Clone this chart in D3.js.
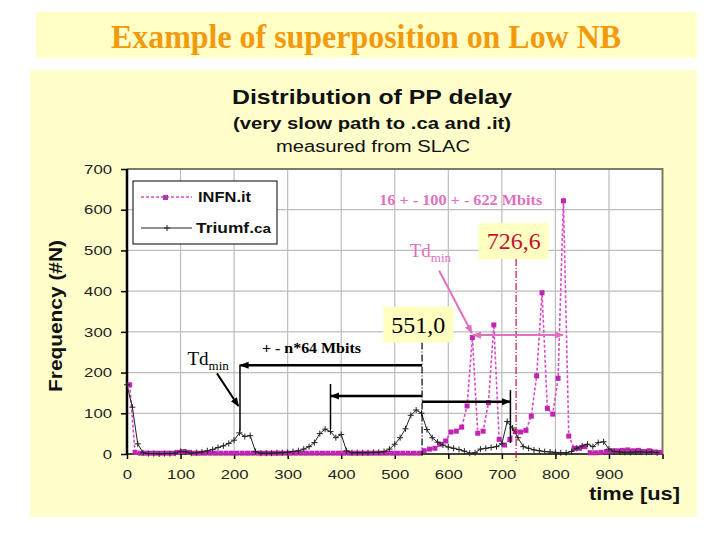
<!DOCTYPE html>
<html><head><meta charset="utf-8">
<script src="https://cdn.jsdelivr.net/npm/d3@7"></script>
<style>body{margin:0;background:#fff;} svg{display:block;}</style>
</head><body>
<svg id="c" width="720" height="540"></svg>
<script>
// ---------------- data ----------------
const xTicks = [0,100,200,300,400,500,600,700,800,900];
const yTicks = [0,100,200,300,400,500,600,700];
const seriesNames = ["INFN.it","Triumf.ca"];

const triumfTimes = [0,10,20,30,40,50,60,70,80,90,100,110,120,130,140,150,160,170,180,190,
  200,210,220,230,240,250,260,270,280,290,300,310,320,330,340,350,360,370,380,390,
  400,410,420,430,440,450,460,470,480,490,500,510,520,530,540,550,560,570,580,590,
  600,610,620,630,640,650,660,670,680,690,700,710,720,730,740,750,760,770,780,790,
  800,810,820,830,840,850,860,870,880,890,900,910,920,930,940,950,960,970,980,990];
const triumfCounts = [170,115,25,3,1,1,0,1,1,2,6,5,2,3,5,8,11,16,20,26,
  34,52,43,45,6,2,2,2,3,3,4,6,8,12,18,28,50,61,55,40,
  48,8,3,3,3,3,4,4,6,12,24,40,62,95,108,100,60,40,29,22,
  17,14,11,7,2,3,12,14,16,18,25,80,64,40,18,14,10,8,6,5,
  4,3,3,6,14,20,24,18,28,30,12,6,5,4,4,5,5,4,5,3];

const infnTimes = [5,15,25,35,45,55,65,75,85,95,105,115,125,135,145,155,165,175,185,195,
  205,215,225,235,245,255,265,275,285,295,305,315,325,335,345,355,365,375,385,395,
  405,415,425,435,445,455,465,475,485,495,505,515,525,535,545,555,565,575,585,595,
  605,615,625,635,645,655,665,675,685,695,705,715,725,735,745,755,765,775,785,795,
  805,815,825,835,845,855,865,875,885,895,905,915,925,935,945,955,965,975,985,995];
const infnCounts = [170,4,2,2,2,2,2,2,2,4,6,4,2,2,2,2,2,2,2,2,
  2,2,2,2,2,2,2,2,2,2,2,2,2,2,2,2,2,2,2,2,
  2,2,2,2,2,2,2,2,2,2,2,2,2,2,2,8,12,14,24,32,
  54,56,66,118,286,51,56,126,317,36,22,36,55,54,58,93,192,396,112,98,
  186,622,44,14,14,18,3,3,4,6,8,8,9,10,8,9,6,8,5,4];

const labelMarks = [551.0, 726.6];

// ---------------- layout ----------------
const svg = d3.select("#c");
const L = 127, R = 662.5, T = 169, B = 454;
const x = d3.scaleLinear().domain([0,1000]).range([L,R]);
const y = d3.scaleLinear().domain([0,700]).range([B,T]);

const defs = svg.append("defs");
function mk(id, color){
  defs.append("marker").attr("id",id).attr("viewBox","0 0 10 10")
    .attr("refX",9).attr("refY",5).attr("markerWidth",9).attr("markerHeight",9)
    .attr("markerUnits","userSpaceOnUse").attr("orient","auto-start-reverse")
    .append("path").attr("d","M0,1 L10,5 L0,9 Z").attr("fill",color);
}
mk("ab","#000"); mk("ap","#e070c0");

function fit(sel, w){ return sel.attr("textLength",w).attr("lengthAdjust","spacingAndGlyphs"); }

// title band
svg.append("rect").attr("x",36).attr("y",12).attr("width",661).attr("height",46).attr("fill","#ffffc6");
fit(svg.append("text").attr("x",111).attr("y",48)
  .attr("font-family","Liberation Serif, Times New Roman, serif").attr("font-weight","bold")
  .attr("font-size",33).attr("fill","#f39a0c").text("Example of superposition on Low NB"), 510);

// chart panel
svg.append("rect").attr("x",30).attr("y",70).attr("width",667).attr("height",447).attr("fill","#ffffcc");
svg.append("rect").attr("x",L).attr("y",T).attr("width",R-L).attr("height",B-T).attr("fill","#fff");

const sans = "Liberation Sans, Arial, sans-serif";
fit(svg.append("text").attr("x",232).attr("y",104).attr("font-family",sans)
  .attr("font-weight","bold").attr("font-size",21).attr("fill","#111").text("Distribution of PP delay"), 280);
fit(svg.append("text").attr("x",233).attr("y",129).attr("font-family",sans)
  .attr("font-weight","bold").attr("font-size",16).attr("fill","#111").text("(very slow path to .ca and .it)"), 278);
fit(svg.append("text").attr("x",276).attr("y",152).attr("font-family",sans)
  .attr("font-size",16).attr("fill","#111").text("measured from SLAC"), 194);

// grid
svg.append("g").selectAll("line").data(xTicks.filter(d=>d>0)).join("line")
  .attr("x1",d=>x(d)).attr("x2",d=>x(d)).attr("y1",T).attr("y2",B).attr("stroke","#bdbdbd").attr("stroke-width",1.2);
svg.append("g").selectAll("line").data(yTicks.filter(d=>d>0)).join("line")
  .attr("x1",L).attr("x2",R).attr("y1",d=>y(d)).attr("y2",d=>y(d)).attr("stroke","#bdbdbd").attr("stroke-width",1.2);

// border top/right
svg.append("path").attr("d",`M${L},${T}H${R}V${B}`).attr("fill","none").attr("stroke","#7b7b68").attr("stroke-width",2);

// axes
const xAxis = d3.axisBottom(x).tickValues(xTicks.concat([1000])).tickSize(5).tickPadding(11)
  .tickFormat(d=> xTicks.includes(d) ? d3.format("d")(d) : "");
const gx = svg.append("g").attr("transform",`translate(0,${B})`).call(xAxis);
const yAxis = d3.axisLeft(y).tickValues(yTicks).tickSize(6).tickPadding(9).tickFormat(d3.format("d"));
const gy = svg.append("g").attr("transform",`translate(${L},0)`).call(yAxis);
[gx,gy].forEach(g=>{
  g.select(".domain").attr("stroke","#000");
  g.selectAll(".tick line").attr("stroke","#000").attr("stroke-width",1.5);
  g.selectAll(".tick text").filter(function(){return this.textContent!=="";})
    .attr("font-family",sans).attr("font-size",13).attr("fill","#222")
    .attr("textLength",function(){return this.textContent.length*9.3;}).attr("lengthAdjust","spacingAndGlyphs");
});
gx.selectAll(".tick text").filter(function(){return this.textContent==="";}).remove();
gx.select(".domain").attr("stroke-width",1.5).attr("d",`M${L},0H${R}`);
gy.select(".domain").attr("stroke-width",2.5).attr("d",`M0,${T}V${B}`);

fit(svg.append("text").attr("transform","translate(62,316) rotate(-90)").attr("text-anchor","middle")
  .attr("font-family",sans).attr("font-weight","bold").attr("font-size",19).attr("fill","#111").text("Frequency (#N)"), 152);
fit(svg.append("text").attr("x",589).attr("y",500)
  .attr("font-family",sans).attr("font-weight","bold").attr("font-size",18).attr("fill","#111").text("time [us]"), 91);

// series
const infn = infnTimes.map((t,i)=>({t, v:infnCounts[i]}));
const triumf = triumfTimes.map((t,i)=>({t, v:triumfCounts[i]}));
const line = d3.line().x(d=>x(d.t)).y(d=>y(d.v));

svg.append("path").datum(infn).attr("d",line).attr("fill","none")
  .attr("stroke","#d94cc8").attr("stroke-width",1.6).attr("stroke-dasharray","3,2");
svg.append("g").selectAll("rect").data(infn).join("rect")
  .attr("x",d=>x(d.t)-2.5).attr("y",d=>y(d.v)-2.5).attr("width",5).attr("height",5).attr("fill","#c024b4");

svg.append("path").datum(triumf).attr("d",line).attr("fill","none").attr("stroke","#222").attr("stroke-width",1);
svg.append("g").selectAll("path").data(triumf).join("path")
  .attr("d",d=>`M${x(d.t)-3},${y(d.v)}h6M${x(d.t)},${y(d.v)-3}v6`).attr("stroke","#222").attr("stroke-width",1);

// legend
const lg = svg.append("g");
lg.append("rect").attr("x",133).attr("y",181).attr("width",144).attr("height",63).attr("fill","#fff").attr("stroke","#000");
lg.append("line").attr("x1",141).attr("x2",192).attr("y1",197).attr("y2",197).attr("stroke","#d94cc8").attr("stroke-width",1.3).attr("stroke-dasharray","3,2");
lg.append("rect").attr("x",163).attr("y",195).attr("width",5).attr("height",5).attr("fill","#b03ab0");
fit(lg.append("text").attr("x",198).attr("y",202).attr("font-family",sans).attr("font-weight","bold").attr("font-size",14).attr("fill","#111").text(seriesNames[0]), 53);
lg.append("line").attr("x1",141).attr("x2",192).attr("y1",228).attr("y2",228).attr("stroke","#222").attr("stroke-width",1);
lg.append("path").attr("d","M164,228h6M167,225v6").attr("stroke","#222");
const tt = lg.append("text").attr("x",196).attr("y",233).attr("font-family",sans).attr("font-weight","bold").attr("font-size",14).attr("fill","#111");
fit(tt.append("tspan").text("Triumf."), 58);
fit(tt.append("tspan").attr("font-size",12).text("ca"), 17);

// ---------------- annotations ----------------
const serif = "Liberation Serif, Times New Roman, serif";
const ann = svg.append("g");
// black Td_min
const tdb = ann.append("text").attr("x",x(113)).attr("y",y(219)).attr("font-family",serif).attr("font-size",19).attr("fill","#000");
tdb.append("tspan").text("Td");
tdb.append("tspan").attr("font-size",13).attr("dy",5).text("min");
function seg(x1,y1,x2,y2,w,col,extra){
  const l = ann.append("line").attr("x1",x(x1)).attr("y1",y(y1)).attr("x2",x(x2)).attr("y2",y(y2))
    .attr("stroke",col).attr("stroke-width",w);
  if(extra) extra(l);
  return l;
}
seg(168,198,208,118,2,"#000",l=>l.attr("marker-end","url(#ab)"));
seg(211,220,211,55,1.5,"#000");
seg(551,218,212,218,2.5,"#000",l=>l.attr("marker-end","url(#ab)"));
seg(380,172,380,61,1.5,"#000");
seg(551,142.5,381,142.5,2.5,"#000",l=>l.attr("marker-end","url(#ab)"));
seg(716,157,716,27,1.5,"#000");
seg(551,128.5,715,128.5,2.5,"#000",l=>l.attr("marker-end","url(#ab)"));
seg(labelMarks[0],274,labelMarks[0],-4,1.2,"#000",l=>l.attr("stroke-dasharray","7,2,1,2"));
seg(labelMarks[1],479,labelMarks[1],-22,1.2,"#c0143c",l=>l.attr("stroke-dasharray","7,2,1,2"));

fit(ann.append("text").attr("x",x(252)).attr("y",y(248)).attr("font-family",serif).attr("font-weight","bold")
  .attr("font-size",14).attr("fill","#000").text("+ - n*64 Mbits"), 99);

// value boxes
function vbox(cx,cy,txt,col){
  ann.append("rect").attr("x",x(cx)-35).attr("y",y(cy)-18).attr("width",70).attr("height",36).attr("fill","#ffffc0");
  ann.append("text").attr("x",x(cx)).attr("y",y(cy)+8).attr("text-anchor","middle").attr("font-family",serif)
    .attr("font-size",24).attr("fill",col).text(txt);
}
vbox(544,318,"551,0","#000");
vbox(722,523,"726,6","#c0143c");

// pink annotations
const tdp = ann.append("text").attr("x",x(528)).attr("y",y(485)).attr("font-family",serif).attr("font-size",19).attr("fill","#e070c0");
tdp.append("tspan").text("Td");
tdp.append("tspan").attr("font-size",13).attr("dy",5).text("min");
seg(583,450,644,297,2,"#e070c0",l=>l.attr("marker-end","url(#ap)"));
seg(646,292,814,292,2,"#e070c0",l=>l.attr("marker-end","url(#ap)").attr("marker-start","url(#ap)"));
fit(ann.append("text").attr("x",x(471)).attr("y",y(612)).attr("font-family",serif).attr("font-weight","bold")
  .attr("font-size",14).attr("fill","#e070c0").text("16 + - 100 + - 622  Mbits"), 163);
</script>
</body></html>
